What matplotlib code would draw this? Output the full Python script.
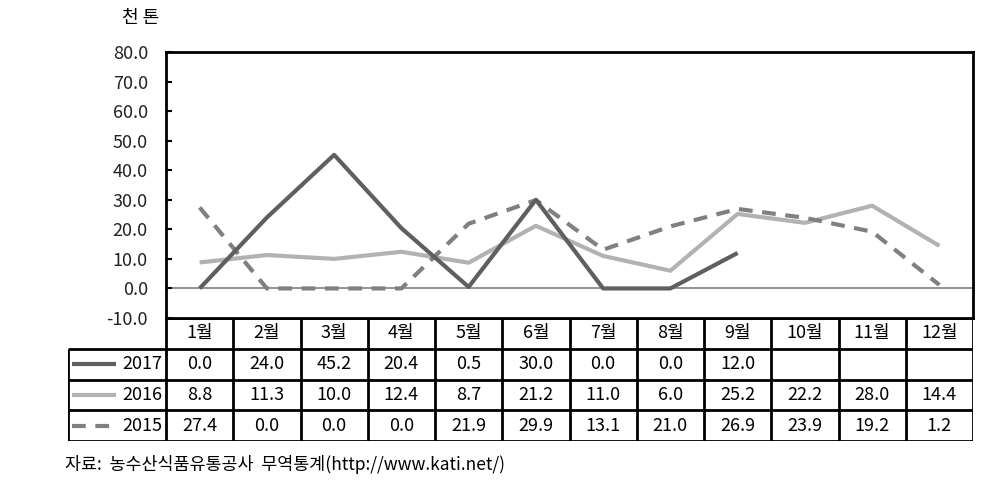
import matplotlib
matplotlib.use("Agg")
import matplotlib.pyplot as plt

plt.rcParams['font.family'] = ['Noto Sans CJK KR', 'DejaVu Sans']

months = ['1월', '2월', '3월', '4월', '5월', '6월', '7월', '8월', '9월', '10월', '11월', '12월']
years = ['2017', '2016', '2015']
v2017 = [0.0, 24.0, 45.2, 20.4, 0.5, 30.0, 0.0, 0.0, 12.0, None, None, None]
v2016 = [8.8, 11.3, 10.0, 12.4, 8.7, 21.2, 11.0, 6.0, 25.2, 22.2, 28.0, 14.4]
v2015 = [27.4, 0.0, 0.0, 0.0, 21.9, 29.9, 13.1, 21.0, 26.9, 23.9, 19.2, 1.2]
yticks = [-10, 0, 10, 20, 30, 40, 50, 60, 70, 80]

W, H = 1006, 496
fig = plt.figure(figsize=(W / 100, H / 100), dpi=100)

def px_axes(x0, y0, x1, y1):
    return fig.add_axes([x0 / W, 1 - y1 / H, (x1 - x0) / W, (y1 - y0) / H])

styles = {
    '2017': dict(color='#5f5f5f', lw=3, ls='-'),
    '2016': dict(color='#b2b2b2', lw=3, ls='-'),
    '2015': dict(color='#808080', lw=3, ls=(0, (3.3, 2.3))),
}
series = {'2017': v2017, '2016': v2016, '2015': v2015}
fs = 13

# main chart
ax = px_axes(166, 52, 973, 318)
xs = [i + 0.5 for i in range(12)]
ax.axhline(0, color='#808080', lw=1.2, zorder=1)
for yr in ['2016', '2015', '2017']:
    pts = [(x, v) for x, v in zip(xs, series[yr]) if v is not None]
    ax.plot([p[0] for p in pts], [p[1] for p in pts], solid_capstyle='butt',
            dash_capstyle='butt', zorder=3, **styles[yr])
ax.set_xlim(0, 12)
ax.set_ylim(-10, 80)
ax.set_xticks([])
ax.set_yticks(yticks)
ax.set_yticklabels([f'{t:.1f}' for t in yticks], fontsize=fs, color='#222222')
ax.tick_params(axis='y', direction='in', length=4, width=1.5, pad=13)
for s in ax.spines.values():
    s.set_linewidth(2)
fig.text(122 / W, 1 - 18 / H, '천 톤', fontsize=13, va='center', ha='left')

# data table
legw = (166 - 68) / ((973 - 166) / 12)
tb = px_axes(68, 318, 973, 441)
tb.set_xlim(-legw, 12)
tb.set_ylim(4, 0)
tb.axis('off')
lw = 2
tb.hlines(0, 0, 12, color='black', lw=lw)
tb.hlines([1, 2, 3, 4], -legw, 12, color='black', lw=lw)
tb.vlines(range(13), 0, 4, color='black', lw=lw)
tb.vlines(-legw, 1, 4, color='black', lw=lw)
for i, m in enumerate(months):
    tb.text(i + 0.5, 0.5, m, ha='center', va='center', fontsize=fs)
for r, yr in enumerate(years):
    y = r + 1.5
    st = styles[yr]
    tb.plot([-legw + 0.06, -legw + 0.72], [y, y], color=st['color'], lw=st['lw'],
            ls=st['ls'], solid_capstyle='butt', dash_capstyle='butt')
    tb.text(-0.05, y, yr, ha='right', va='center', fontsize=fs)
    for i, v in enumerate(series[yr]):
        if v is not None:
            tb.text(i + 0.5, y, f'{v:.1f}', ha='center', va='center', fontsize=fs)

fig.text(65 / W, 1 - 465 / H, '자료:  농수산식품유통공사  무역통계(http://www.kati.net/)',
         fontsize=12.5, va='center', ha='left')

fig.savefig('out.png', dpi=100)
